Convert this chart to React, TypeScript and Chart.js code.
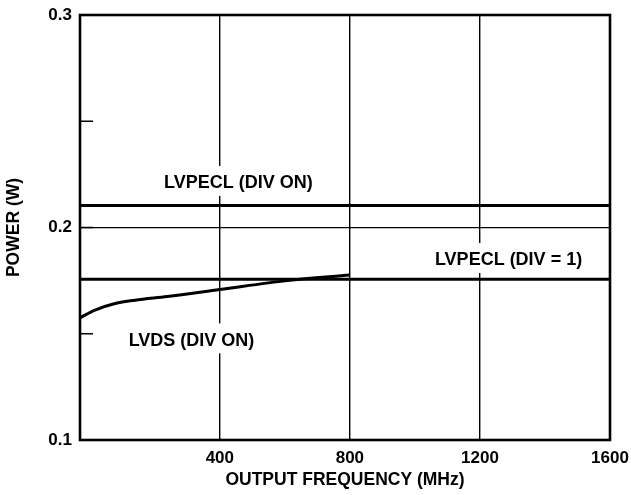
import React, { useEffect, useRef } from "react";
import { Chart, registerables } from "chart.js";

Chart.register(...registerables);

// ---- data ----
const X_MIN = -30;
const X_MAX = 1600;
const X_TICKS = [400, 800, 1200, 1600];
const Y_TICKS = [0.1, 0.15, 0.2, 0.25, 0.3];
const Y_LABELED = [0.1, 0.2, 0.3];

const LVPECL_DIV_ON_FREQ = [-30, 1600];
const LVPECL_DIV_ON_POWER = [0.2103, 0.2103];

const LVPECL_DIV1_FREQ = [-30, 1600];
const LVPECL_DIV1_POWER = [0.1757, 0.1757];

const LVDS_FREQ = [-30, 16, 78, 139, 238, 400, 607, 800];
const LVDS_POWER = [0.1575, 0.1611, 0.1642, 0.1658, 0.1675, 0.1708, 0.175, 0.1776];

const LABEL_TEXT = ["LVPECL (DIV ON)", "LVPECL (DIV = 1)", "LVDS (DIV ON)"];
const LABEL_FREQ = [457, 1288, 313];
const LABEL_POWER = [0.221, 0.1847, 0.1469];

const FONT = "'Liberation Sans', Arial, sans-serif";

const toXY = (xs: number[], ys: number[]) => xs.map((x, i) => ({ x, y: ys[i] }));

const labelPlugin = {
  id: "labels",
  beforeDatasetsDraw(chart: any) {
    const { ctx, scales } = chart;
    ctx.save();
    ctx.font = `bold 18px ${FONT}`;
    ctx.textAlign = "center";
    ctx.textBaseline = "middle";
    LABEL_TEXT.forEach((t, i) => {
      const px = scales.x.getPixelForValue(LABEL_FREQ[i]);
      const py = scales.y.getPixelForValue(LABEL_POWER[i]);
      const w = ctx.measureText(t).width;
      ctx.fillStyle = "#fff";
      ctx.fillRect(px - w / 2 - 3, py - 17, w + 6, 30);
      ctx.fillStyle = "#000";
      ctx.fillText(t, px, py + 0.5);
    });
    ctx.restore();
  },
  afterDraw(chart: any) {
    const { ctx, chartArea, scales } = chart;
    const { left, right, top, bottom } = chartArea;
    ctx.save();
    ctx.strokeStyle = "#000";
    ctx.lineWidth = 1.5;
    Y_TICKS.forEach((v) => {
      const py = scales.y.getPixelForValue(v);
      ctx.beginPath();
      ctx.moveTo(left, py);
      ctx.lineTo(left + 13, py);
      ctx.stroke();
    });
    ctx.lineWidth = 2.6;
    ctx.strokeRect(left, top, right - left, bottom - top);
    ctx.restore();
  },
};

export default function App() {
  const ref = useRef<HTMLCanvasElement | null>(null);

  useEffect(() => {
    if (!ref.current) return;
    const lineStyle = {
      borderColor: "#000",
      borderWidth: 3,
      pointRadius: 0,
      fill: false,
    };
    const chart = new Chart(ref.current, {
      type: "line",
      data: {
        datasets: [
          { ...lineStyle, label: "LVPECL (DIV ON)", data: toXY(LVPECL_DIV_ON_FREQ, LVPECL_DIV_ON_POWER) },
          { ...lineStyle, label: "LVPECL (DIV = 1)", data: toXY(LVPECL_DIV1_FREQ, LVPECL_DIV1_POWER) },
          {
            ...lineStyle,
            label: "LVDS (DIV ON)",
            data: toXY(LVDS_FREQ, LVDS_POWER),
            cubicInterpolationMode: "monotone",
          },
        ],
      },
      options: {
        animation: false,
        responsive: false,
        maintainAspectRatio: false,
        layout: { padding: { left: 0, right: 21, top: 15, bottom: 0 } },
        plugins: { legend: { display: false }, tooltip: { enabled: false } },
        scales: {
          x: {
            type: "linear",
            min: X_MIN,
            max: X_MAX,
            afterBuildTicks: (s: any) => {
              s.ticks = X_TICKS.map((v) => ({ value: v }));
            },
            afterFit: (s: any) => {
              s.height = 55;
              s.paddingLeft = 0;
              s.paddingRight = 0;
            },
            border: { display: false },
            grid: {
              drawTicks: false,
              lineWidth: 1.4,
              color: (c: any) => (c.tick && c.tick.value < X_MAX ? "#000" : "rgba(0,0,0,0)"),
            },
            ticks: {
              padding: 8,
              color: "#000",
              maxRotation: 0,
              font: { family: FONT, size: 17, weight: "bold" },
              callback: (v: any) => String(v),
            },
            title: {
              display: true,
              text: "OUTPUT FREQUENCY (MHz)",
              color: "#000",
              font: { family: FONT, size: 17.5, weight: "bold" },
              padding: { top: 0, bottom: 4 },
            },
          },
          y: {
            type: "linear",
            min: 0.1,
            max: 0.3,
            afterBuildTicks: (s: any) => {
              s.ticks = Y_TICKS.map((v) => ({ value: v }));
            },
            afterFit: (s: any) => {
              s.width = 80;
              s.paddingTop = 0;
              s.paddingBottom = 0;
            },
            border: { display: false },
            grid: {
              drawTicks: false,
              lineWidth: 1.2,
              color: (c: any) => (c.tick && Math.abs(c.tick.value - 0.2) < 1e-9 ? "#000" : "rgba(0,0,0,0)"),
            },
            ticks: {
              padding: 8,
              color: "#000",
              font: { family: FONT, size: 17, weight: "bold" },
              callback: (v: any) => {
                const hit = Y_LABELED.find((t) => Math.abs(t - Number(v)) < 1e-9);
                return hit !== undefined ? hit.toFixed(1) : "";
              },
            },
            title: {
              display: true,
              text: "POWER (W)",
              color: "#000",
              font: { family: FONT, size: 17.5, weight: "bold" },
              padding: { top: 4, bottom: 0 },
            },
          },
        },
      },
      plugins: [labelPlugin],
    } as any);
    return () => chart.destroy();
  }, []);

  return (
    <div style={{ position: "fixed", left: 0, top: 0, width: 631, height: 495, background: "#fff" }}>
      <canvas ref={ref} width={631} height={495} style={{ width: 631, height: 495, display: "block" }} />
    </div>
  );
}
